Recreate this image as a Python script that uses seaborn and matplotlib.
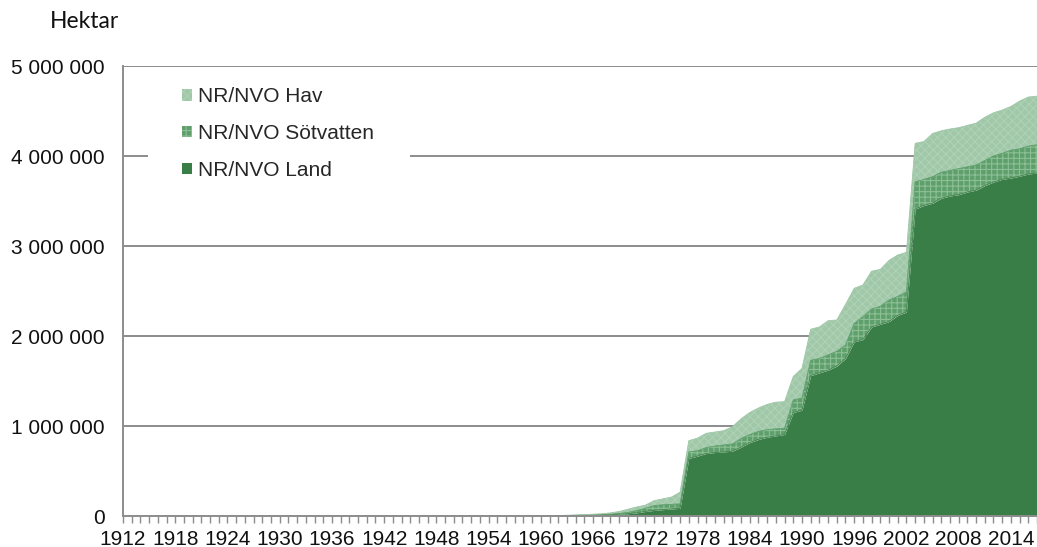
import numpy as np
import pandas as pd
import matplotlib
matplotlib.use("Agg")
import matplotlib.pyplot as plt
import seaborn as sns
from matplotlib.patches import Patch, Rectangle

# ---- data (thousand hectares), years 1912-2017 ----
years = list(range(1912, 2018))
land_k = [0] * 48 + [
    2, 3, 4, 5, 6, 8, 10, 12, 15, 20,            # 1960-1969
    25, 35, 50, 62, 70, 78, 85, 640, 665, 695,    # 1970-1979
    705, 712, 720, 765, 815, 850, 875, 890, 905, 1150,  # 1980-1989
    1175, 1560, 1590, 1620, 1665, 1750, 1935, 1960, 2100, 2130,  # 1990-1999
    2160, 2230, 2265, 3410, 3450, 3475, 3530, 3555, 3570, 3600,  # 2000-2009
    3620, 3670, 3710, 3740, 3755, 3775, 3800, 3810]              # 2010-2017
sot_k = [0] * 48 + [
    1, 1, 1, 1, 2, 2, 2, 3, 5, 8,
    15, 25, 35, 53, 55, 52, 50, 72, 61, 65,
    73, 78, 80, 95, 90, 90, 85, 78, 70, 140,
    135, 170, 160, 170, 165, 150, 205, 255, 200, 200,
    240, 210, 225, 304, 290, 295, 290, 285, 290, 280,
    280, 280, 290, 290, 310, 305, 310, 315]
hav_k = [0] * 48 + [
    1, 1, 1, 2, 4, 5, 8, 10, 15, 22,
    35, 40, 35, 55, 65, 80, 130, 125, 139, 159,
    155, 158, 190, 220, 245, 260, 280, 297, 295, 260,
    330, 345, 350, 380, 348, 450, 390, 352, 420, 410,
    440, 460, 440, 427, 420, 480, 460, 460, 455, 460,
    465, 480, 480, 480, 485, 530, 545, 540]
series_names = ["NR/NVO Land", "NR/NVO Sötvatten", "NR/NVO Hav"]
y_ticks = [0, 1_000_000, 2_000_000, 3_000_000, 4_000_000, 5_000_000]
x_label_years = list(range(1912, 2018, 6))

df = pd.DataFrame({"year": years,
                   "land": np.array(land_k) * 1000.0,
                   "sot": np.array(sot_k) * 1000.0,
                   "hav": np.array(hav_k) * 1000.0})
df["c1"] = df["land"]
df["c2"] = df["c1"] + df["sot"]
df["c3"] = df["c2"] + df["hav"]

sns.set_theme(style="white")
plt.rcParams["font.family"] = ["Liberation Sans", "DejaVu Sans"]
plt.rcParams["hatch.linewidth"] = 0.8

c_land = "#3a7e47"
c_sot = "#5f9f6c"
c_sot_h = "#8cbf96"
c_hav = "#a0c8a8"
c_hav_h = "#aed1b5"
grid_c = "#8c8c8c"
txt_c = "#111111"
fs = 15

fig = plt.figure(figsize=(10.37, 5.47), dpi=100)
ax = fig.add_axes([123 / 1037, 1 - 516 / 547, (1037 - 123) / 1037, (516 - 66) / 547])

# gridlines
for v in y_ticks[1:]:
    ax.axhline(v, color=grid_c, lw=1.4, zorder=1)

x = df["year"].values
ax.fill_between(x, df["c2"], df["c3"], facecolor=c_hav, edgecolor=c_hav_h,
                hatch="xxxx", linewidth=0, zorder=2)
ax.fill_between(x, df["c1"], df["c2"], facecolor=c_sot, edgecolor=c_sot_h,
                hatch="+++", linewidth=0, zorder=2)
ax.fill_between(x, 0, df["c1"], facecolor=c_land, edgecolor=c_land,
                linewidth=0, zorder=3)
long = pd.DataFrame({
    "year": np.concatenate([x, x, x]),
    "value": np.concatenate([df["c1"], df["c2"], df["c3"]]),
    "series": ["c1"] * len(x) + ["c2"] * len(x) + ["c3"] * len(x)})
sns.lineplot(data=long, x="year", y="value", hue="series",
             palette={"c1": c_land, "c2": c_sot, "c3": c_hav},
             lw=0.6, legend=False, ax=ax, zorder=3)

ax.set_xlim(1912, 2017)
ax.set_ylim(0, 5_000_000)
ax.set_yticks(y_ticks)
ax.set_yticklabels([f"{v:,}".replace(",", " ") for v in y_ticks], fontsize=fs, color=txt_c)
ax.set_xticks(x_label_years)
ax.set_xticklabels([str(y) for y in x_label_years], fontsize=fs, color=txt_c)
ax.set_xticks(years, minor=True)
ax.tick_params(axis="y", length=0, pad=13)
ax.tick_params(axis="x", which="both", direction="out", length=5, width=1,
               color=grid_c, bottom=True, pad=5)
ax.set_xlabel("")
ax.set_ylabel("")
for s in ["top", "right"]:
    ax.spines[s].set_visible(False)
for s in ["left", "bottom"]:
    ax.spines[s].set_color(grid_c)
    ax.spines[s].set_linewidth(1.4)
    ax.spines[s].set_zorder(5)

fig.text(50 / 1037, 1 - 22 / 547, "Hektar", fontsize=16.5, family=["Lato", "DejaVu Sans"],
         va="center", ha="left", color=txt_c)

# white legend area (hides gridline behind the legend, like the original)
fig.patches.append(Rectangle((148 / 1037, 1 - 195 / 547), (410 - 148) / 1037, (195 - 76) / 547,
                             transform=fig.transFigure, facecolor="white",
                             edgecolor="none", zorder=2))

handles = [Patch(facecolor=c_hav, edgecolor=c_hav_h, hatch="xxxx", linewidth=0),
           Patch(facecolor=c_sot, edgecolor=c_sot_h, hatch="+++", linewidth=0),
           Patch(facecolor=c_land, edgecolor=c_land, linewidth=0)]
labels = [series_names[2], series_names[1], series_names[0]]
leg = fig.legend(handles, labels, loc="upper left",
                 bbox_to_anchor=(182 / 1037, 1 - 87 / 547),
                 frameon=False, fontsize=fs,
                 handlelength=0.5, handleheight=0.5, handletextpad=0.25,
                 labelspacing=0.86, borderpad=0, borderaxespad=0)
leg.set_zorder(10)

fig.savefig("out.png", dpi=100)
